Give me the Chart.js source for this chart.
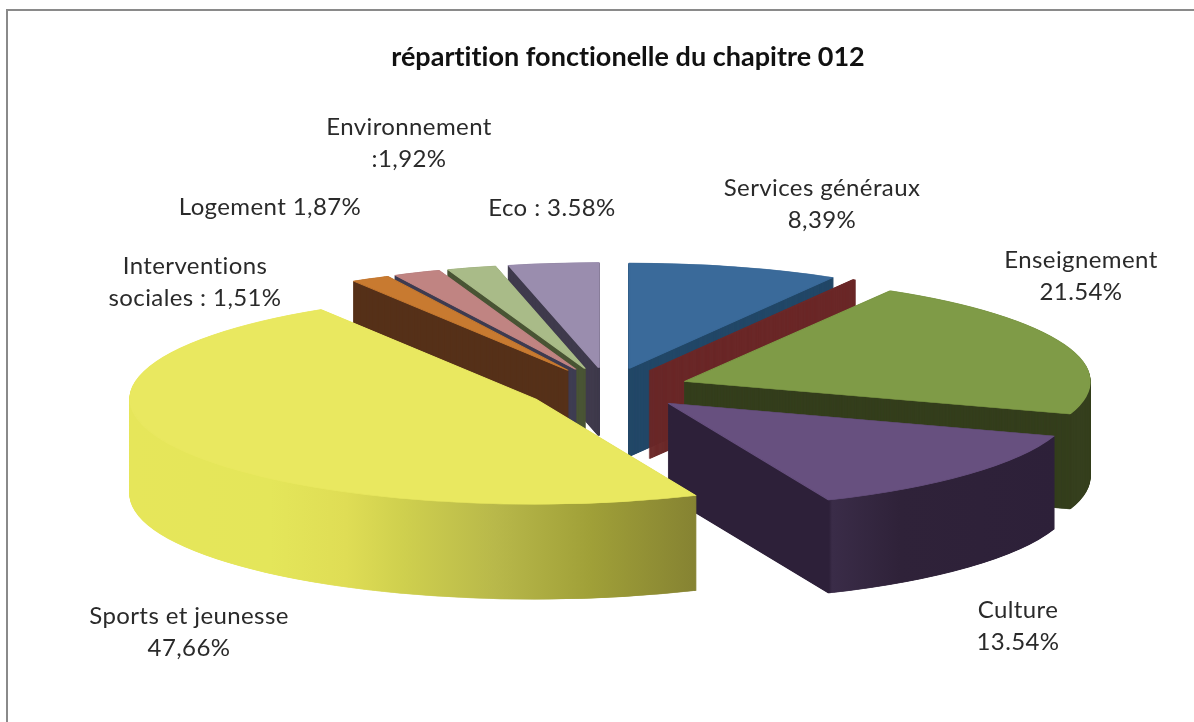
<!DOCTYPE html>
<html>
<head>
<meta charset="utf-8">
<title>répartition fonctionnelle</title>
<script src="https://cdn.jsdelivr.net/npm/chart.js@4/dist/chart.umd.min.js"></script>
<style>
  html, body { margin: 0; background: #fff; }
  canvas { display: block; }
</style>
</head>
<body>
<canvas id="pie" width="1194" height="722"></canvas>
<script>
const categories = ["Services généraux", "Autres", "Enseignement", "Culture", "Sports et jeunesse", "Interventions sociales", "Logement", "Environnement", "Eco"];
const shares = [8.39, 0.1, 21.54, 13.54, 47.66, 1.51, 1.87, 1.92, 3.58];
const topColors = ["#3a6a9a", "#6b2828", "#7f9b47", "#67507f", "#e9e860", "#c87a30", "#c08482", "#a9bb88", "#9a8dae"];
const wallColors = ["#234868", "#6b2828", "#353f1d", "#2d2039", "#e4e558", "#57321a", "#3f3d52", "#4a5535", "#3f3a4c"];
const wallDepths = [88, 88, 95, 93, 95, 68, 68, 68, 68];
const drawOrder = [0, 8, 7, 6, 5, 1, 2, 3, 4];

const labelLines = [
  ["Environnement", ":1,92%"],
  ["Logement 1,87%"],
  ["Eco : 3.58%"],
  ["Interventions", "sociales : 1,51%"],
  ["Services généraux", "8,39%"],
  ["Enseignement", "21.54%"],
  ["Culture", "13.54%"],
  ["Sports et jeunesse", "47,66%"],
];
const labelSpots = [[409, 127], [270, 207], [552, 208], [195, 266], [822, 188], [1081, 260], [1018, 610], [189, 616]];

const sportsWallStops = [[132, "#e6e65a"], [270, "#e4e65a"], [346, "#dfdd55"], [402, "#cfd04e"], [496, "#b8b84a"], [590, "#a0a038"], [698, "#858232"]];
const cultureWallStops = [[669, "#2d2039"], [829, "#2d2039"], [832, "#3a2c48"], [900, "#2f2239"], [1060, "#2d2039"]];

const pieCenter = { x: 608, y: 389 };
const squash = 0.26;
const explode = 82;

const wallFill = (ctx, index, shiftX) => {
  const stops = index === 4 ? sportsWallStops : index === 3 ? cultureWallStops : null;
  if (!stops) return wallColors[index];
  const first = stops[0][0];
  const last = stops[stops.length - 1][0];
  const grad = ctx.createLinearGradient(first - shiftX, 0, last - shiftX, 0);
  stops.forEach(([x, color]) => {
    grad.addColorStop((x - first) / (last - first), color);
  });
  return grad;
};

const drawSliceAt = (ctx, arc, tipX, tipY, overrides) => {
  const saved = arc.options;
  arc.options = Object.assign(Object.create(saved), overrides);
  ctx.save();
  ctx.translate(tipX, tipY);
  ctx.scale(1, squash);
  ctx.translate(-arc.x, -arc.y);
  arc.draw(ctx);
  ctx.restore();
  arc.options = saved;
};

// 3D look: each slice is flattened, pushed out, then stacked from its bottom up
const pie3d = {
  id: "pie3d",
  beforeDraw(chart) {
    const ctx = chart.ctx;
    ctx.save();
    ctx.strokeStyle = "#8a8a8a";
    ctx.lineWidth = 2;
    ctx.strokeRect(7, 10, 1400, 1000);
    ctx.restore();
    ctx.letterSpacing = "0.02px"; // no ligatures in the title
  },
  beforeDatasetsDraw(chart) {
    const ctx = chart.ctx;
    const arcs = chart.getDatasetMeta(0).data;
    drawOrder.forEach((i) => {
      const arc = arcs[i];
      const mid = (arc.startAngle + arc.endAngle) / 2;
      const tipX = pieCenter.x + Math.cos(mid) * explode;
      const tipY = pieCenter.y + Math.sin(mid) * explode * squash;
      const fill = wallFill(ctx, i, tipX - arc.x);
      const wall = { backgroundColor: fill, borderColor: fill, borderWidth: 2 };
      for (let d = wallDepths[i]; d > 0; d -= 0.5) {
        drawSliceAt(ctx, arc, tipX, tipY + d, wall);
      }
      drawSliceAt(ctx, arc, tipX, tipY, { backgroundColor: topColors[i], borderColor: topColors[i], borderWidth: 2 });
    });
    return false;
  },
  afterDraw(chart) {
    const ctx = chart.ctx;
    ctx.save();
    ctx.fillStyle = "#2a2a2a";
    ctx.font = "24px Lato";
    ctx.letterSpacing = "0.4px";
    ctx.textAlign = "center";
    ctx.textBaseline = "middle";
    labelLines.forEach((lines, i) => {
      lines.forEach((line, j) => {
        ctx.fillText(line, labelSpots[i][0], labelSpots[i][1] + j * 32);
      });
    });
    ctx.restore();
  },
};

new Chart(document.getElementById("pie"), {
  type: "pie",
  data: {
    labels: categories,
    datasets: [{ data: shares, backgroundColor: topColors, borderWidth: 0 }],
  },
  options: {
    responsive: false,
    animation: false,
    radius: 405,
    layout: { padding: { left: 62 } },
    plugins: {
      legend: { display: false },
      tooltip: { enabled: false },
      title: {
        display: true,
        text: "répartition fonctionelle du chapitre 012",
        color: "#111",
        font: { family: "Lato", size: 27, weight: "bold" },
        padding: { top: 41, bottom: 10 },
      },
    },
  },
  plugins: [pie3d],
});
</script>
</body>
</html>
